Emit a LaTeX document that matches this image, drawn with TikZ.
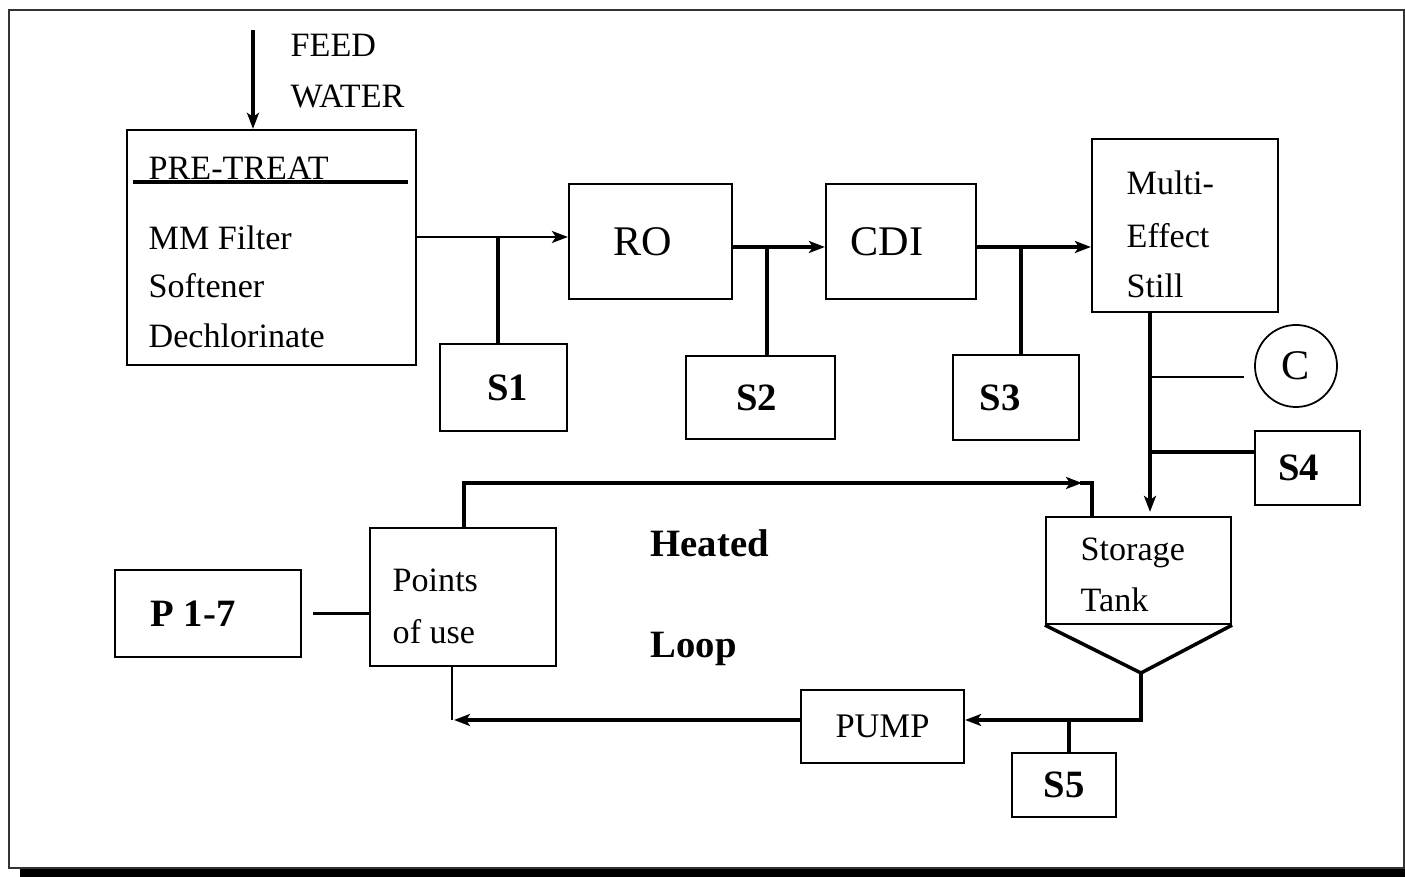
\documentclass[tikz,border=0pt]{standalone}
\usepackage{fontspec}
\setmainfont{Liberation Serif}
\usetikzlibrary{arrows.meta, positioning, calc}
\tikzset{
    block/.style={rectangle, draw, line width=0.6pt, inner sep=0pt, font=\fontsize{12}{14}\selectfont},
    sample/.style={rectangle, draw, line width=0.6pt, inner sep=0pt, font=\bfseries\fontsize{11}{13}\selectfont},
    smallbox/.style={rectangle, draw, line width=0.6pt, inner sep=0pt, font=\fontsize{9.8}{12}\selectfont},
    txt/.style={inner sep=0pt, anchor=base west, font=\fontsize{9.7}{12}\selectfont},
    boldtxt/.style={inner sep=0pt, anchor=base west, font=\bfseries\fontsize{11}{13}\selectfont},
    line/.style={draw, line width=0.55pt, -{Stealth[length=1.6mm, width=1.2mm, inset=0.4mm]}},
    flow/.style={draw, line width=1pt, -{Stealth[length=1.6mm, width=1.2mm, inset=0.4mm]}},
    pipe/.style={draw, line width=1pt}
}
\begin{document}
\begin{tikzpicture}[x=0.01cm, y=-0.01cm]
    \useasboundingbox (0,0) rectangle (1405,877);
    % Frame
    \draw [line width=0.6pt, black!80] (9,10) rectangle (1404,868);
    \fill (20,869) rectangle (1405,877);

    % Feed
    \coordinate (feed) at (253,30);
    \node [txt] (feed1) at (290,57) {FEED};
    \node [txt] (feed2) at (290,108) {WATER};

    % Pre-treatment
    \node [block, minimum width=2.89cm, minimum height=2.35cm] (pre) at (271.5,247.5) {};
    \node [txt] (pretitle) at (148,180) {PRE-TREAT};
    \draw [line width=1pt] ($(pre.north west)+(7,53)$) -- ($(pre.north east)+(-9,53)$);
    \foreach \t/\y [count=\i] in {MM Filter/250, Softener/298, Dechlorinate/348}
        \node [txt] (pre\i) at (148,\y) {\t};

    % Treatment train
    \node [block, minimum width=1.63cm, minimum height=1.15cm] (ro) at (650.5,241.5) {RO\kern0.15cm};
    \node [block, minimum width=1.50cm, minimum height=1.15cm] (cdi) at (901,241.5) {CDI\kern0.28cm};
    \node [block, minimum width=1.86cm, minimum height=1.73cm] (multi) at (1185,225.5) {};
    \foreach \t/\y [count=\i] in {Multi-/195, Effect/248, Still/298}
        \node [txt] (multi\i) at (1126,\y) {\t};

    % Sample points
    \node [sample, minimum width=1.27cm, minimum height=0.87cm] (s1) at (503.5,387.5) {\kern0.08cm S1};
    \node [sample, minimum width=1.49cm, minimum height=0.83cm] (s2) at (760.5,397.5) {S2\kern0.08cm};
    \node [sample, minimum width=1.26cm, minimum height=0.85cm] (s3) at (1016,397.5) {S3\kern0.32cm};
    \node [sample, minimum width=1.05cm, minimum height=0.74cm] (s4) at (1307.5,468) {S4\kern0.18cm};
    \node [sample, minimum width=1.04cm, minimum height=0.64cm] (s5) at (1064,785) {S5};
    \node [circle, draw, line width=0.5pt, minimum size=0.82cm, inner sep=0pt,
           font=\fontsize{12}{14}\selectfont] (cond) at (1296,366) {C};

    % Storage and loop
    \node [smallbox, minimum width=1.85cm, minimum height=1.07cm] (tank) at (1138.5,570.5) {};
    \node [txt] (tank1) at (1080,561) {Storage};
    \node [txt] (tank2) at (1080,612) {Tank};
    \coordinate (vtip) at (1141,673);
    \node [smallbox, minimum width=1.63cm, minimum height=0.73cm] (pump) at (882.5,726.5) {PUMP};
    \node [smallbox, minimum width=1.86cm, minimum height=1.38cm] (pou) at (463,597) {};
    \node [txt] (pou1) at (392,592) {Points};
    \node [txt] (pou2) at (392,644) {of use};
    \node [sample, minimum width=1.86cm, minimum height=0.87cm] (p17) at (208,613.5) {P 1-7\kern0.3cm};
    \node [boldtxt] (heat1) at (650,557) {Heated};
    \node [boldtxt] (heat2) at (650,658) {Loop};

    % Junctions
    \coordinate (j1) at (498,237);
    \coordinate (j2) at (767,247);
    \coordinate (j3) at (1021,247);
    \coordinate (j4) at (1150,377);
    \coordinate (j5) at (1150,452);
    \coordinate (j6) at (1069,720);
    \coordinate (loopa) at (464,483);
    \coordinate (loopb) at (1092,483);
    \coordinate (ret) at (452,720);

    % Paths
    \path [flow] (feed) -- (feed |- pre.north);
    \path [line] (pre.east |- j1) -- (ro.west |- j1);
    \path [pipe] (j1) -- (j1 |- s1.north);
    \path [flow] (ro.east |- j2) -- (cdi.west |- j2);
    \path [pipe] (j2) -- (j2 |- s2.north);
    \path [flow] (cdi.east |- j3) -- (multi.west |- j3);
    \path [pipe] (j3) -- (j3 |- s3.north);

    % Still to storage
    \path [flow] (multi.south -| j4) -- ([yshift=0.04cm]tank.north -| j4);
    \draw [line width=0.55pt, shorten >=0.1cm] (j4) -- (cond.west |- j4);
    \path [pipe] (j5) -- (s4.west |- j5);

    % Heated loop
    \draw [line width=1pt] (tank.south west) -- (vtip) -- (tank.south east);
    \path [flow] (vtip) |- (pump.east |- j6);
    \path [pipe] (j6) -- (j6 |- s5.north);
    \path [flow] (pump.west |- j6) -- ([xshift=0.02cm]ret);
    \draw [line width=0.55pt] (pou.south -| ret) -- (ret);
    \path [flow] (pou.north -| loopa) -- (loopa) -- ([xshift=-0.1cm]loopb);
    \path [pipe] ([xshift=-0.12cm]loopb) -- (loopb) -- (tank.north -| loopb);
    \path [pipe] ([xshift=0.11cm]p17.east) -- (pou.west |- p17.east);
\end{tikzpicture}
\end{document}
